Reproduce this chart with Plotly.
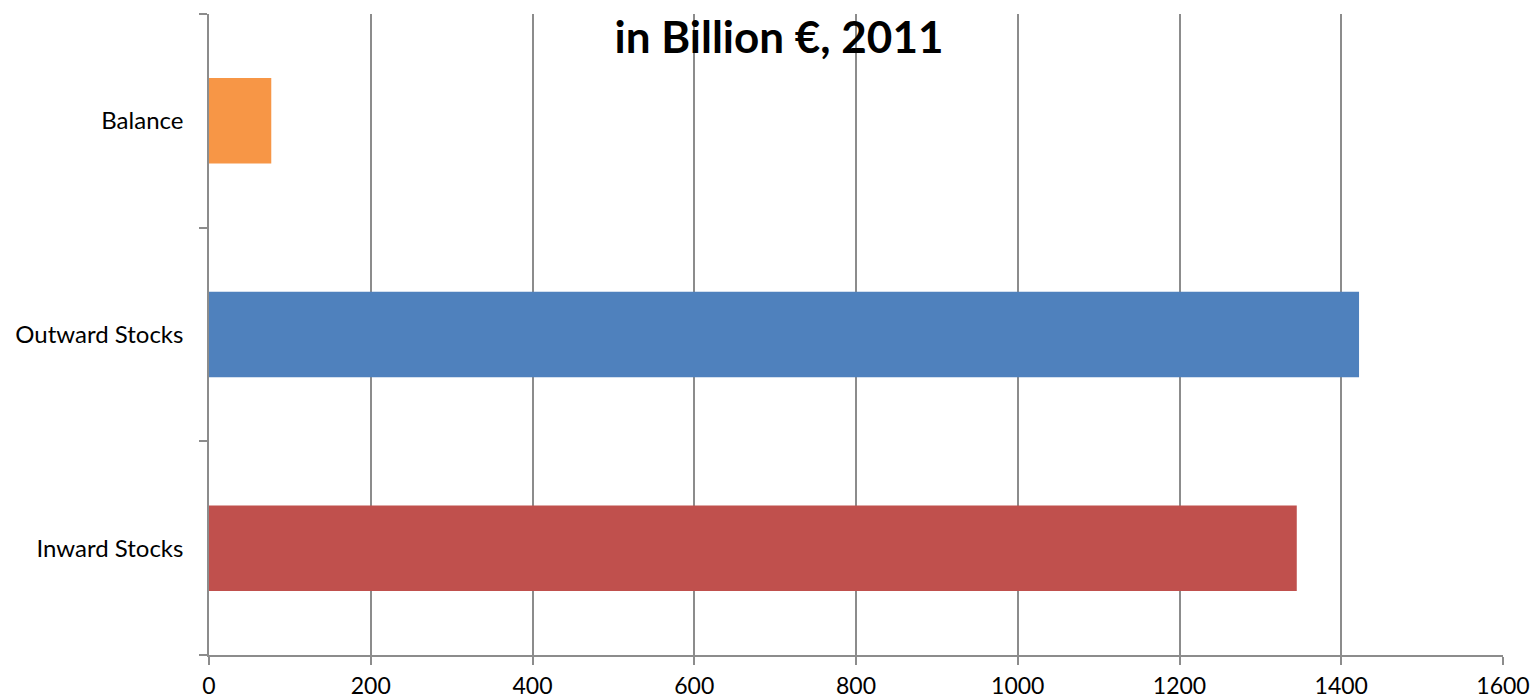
import plotly.graph_objects as go

categories = ["Inward Stocks", "Outward Stocks", "Balance"]
values = [1345, 1422, 77]
colors = ["#C0504D", "#4F81BD", "#F79646"]
x_ticks = [0, 200, 400, 600, 800, 1000, 1200, 1400, 1600]
title_text = "in Billion €, 2011"

grid = "#8C8C8C"
font_family = "Lato"

fig = go.Figure(
    go.Bar(
        y=categories,
        x=values,
        orientation="h",
        marker=dict(color=colors, line=dict(width=0)),
        width=0.4,
        hoverinfo="x+y",
    )
)

fig.update_layout(
    width=1534,
    height=700,
    margin=dict(l=209, r=31, t=14, b=45, autoexpand=False),
    paper_bgcolor="white",
    plot_bgcolor="white",
    showlegend=False,
    font=dict(family=font_family, color="#000000", size=24),
    title=dict(
        text=title_text,
        font=dict(family=font_family, size=44, color="#000000", weight="bold"),
        x=779 / 1534,
        xref="container",
        xanchor="center",
        y=1 - 38 / 700,
        yref="container",
        yanchor="middle",
    ),
)

fig.update_xaxes(
    range=[0, 1600],
    tickvals=x_ticks,
    ticktext=[str(v) for v in x_ticks],
    automargin=False,
    showgrid=True,
    gridcolor=grid,
    gridwidth=1.5,
    zeroline=False,
    showline=True,
    linecolor=grid,
    linewidth=1.5,
    ticks="outside",
    ticklen=8,
    tickcolor=grid,
    tickwidth=1.5,
    tickfont=dict(family=font_family, size=23, color="#000000"),
    ticklabelstandoff=2,
)

fig.update_yaxes(
    categoryorder="array",
    categoryarray=categories,
    automargin=False,
    showgrid=False,
    zeroline=False,
    showline=True,
    linecolor=grid,
    linewidth=1.5,
    ticks="outside",
    tickson="boundaries",
    ticklen=8,
    tickcolor=grid,
    tickwidth=1.5,
    tickfont=dict(family=font_family, size=24, color="#000000"),
    ticklabelstandoff=19,
)

fig.write_html(
    "out.html",
    config={"displayModeBar": False},
    post_script="document.body.style.margin='0';document.body.style.overflow='hidden';",
)
